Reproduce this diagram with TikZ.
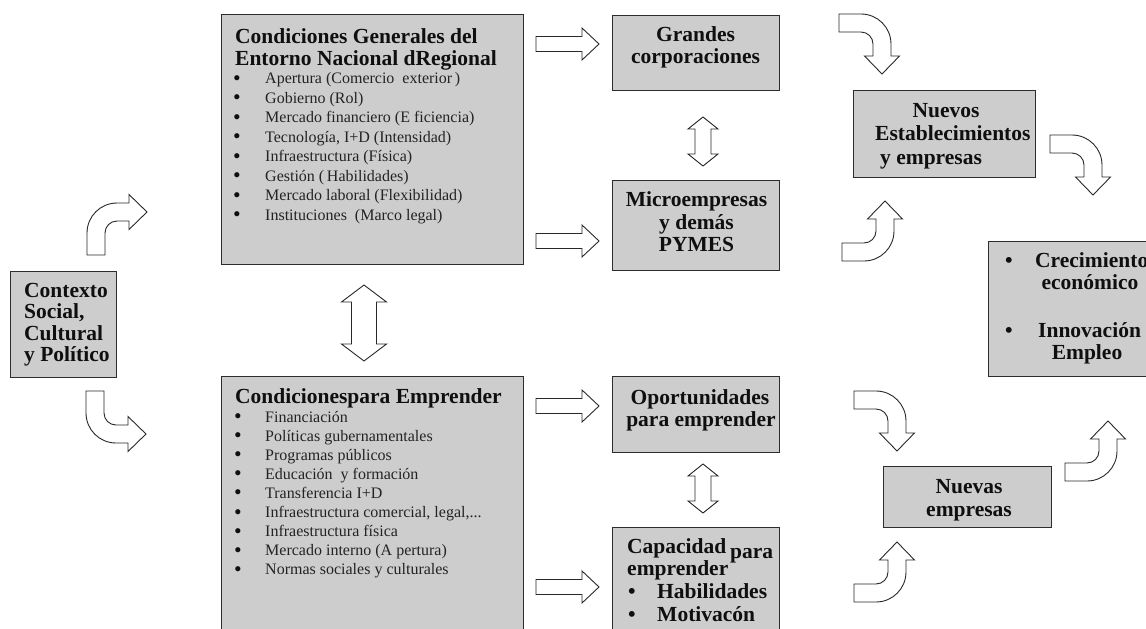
\documentclass[tikz,border=0pt]{standalone}
\usepackage{fontspec}
\setmainfont{Liberation Serif}
\definecolor{boxfill}{RGB}{205,205,205}
\definecolor{boxline}{RGB}{45,45,45}
\definecolor{arrline}{RGB}{40,40,40}
\definecolor{itemcol}{RGB}{35,35,35}
\definecolor{titcol}{RGB}{15,15,15}
\newcommand\threedots{...}
% bent block arrow: shaft starts at (0,0)-(0,18), goes right, bends down
\newcommand\bentarrow[1]{\draw[blk,#1] (0,0) -- (22,0) .. controls (38.6,0) and (52,13.4) .. (52,30) -- (52,42) -- (60.5,42) -- (43,60) -- (25.5,42) -- (34,42) -- (34,30) .. controls (34,23.4) and (28.6,18) .. (22,18) -- (0,18) -- cycle;}
% straight block arrow pointing right, shift = left end centre
\newcommand\rightarrowblk[1]{\draw[blk,shift={#1}] (0,-7.5) -- (46,-7.5) -- (46,-16) -- (63,0) -- (46,16) -- (46,7.5) -- (0,7.5) -- cycle;}
% small vertical double block arrow, shift = centre
\newcommand\smalldbl[1]{\draw[blk,shift={#1}] (-8,-12.5) -- (-15,-12.5) -- (0,-24.5) -- (15,-12.5) -- (8,-12.5) -- (8,12.5) -- (15,12.5) -- (0,24.5) -- (-15,12.5) -- (-8,12.5) -- cycle;}
\begin{document}
\begin{tikzpicture}[x=1pt,y=-1pt,
  box/.style={draw=boxline, fill=boxfill, line width=1.3pt, inner sep=0pt, anchor=north west},
  blk/.style={draw=arrline, fill=white, line width=0.9pt, line join=miter},
  tl/.style={font=\fontsize{21.5}{22}\selectfont\bfseries, inner sep=0pt, anchor=base west, text=titcol},
  tc/.style={tl, anchor=base},
  itm/.style={font=\fontsize{16}{19.5}\selectfont, inner sep=0pt, anchor=base west, text=itemcol},
  bul/.style={font=\fontsize{19}{19.5}\selectfont\bfseries, inner sep=0pt, anchor=base, text=titcol},
]
\useasboundingbox (0,0) rectangle (1146,629);
\clip (0,0) rectangle (1146,629);
\fill[white] (0,0) rectangle (1146,629);

% ---------- boxes ----------
\node[box, minimum width=106, minimum height=106] (ctx) at (10,271) {};
\node[box, minimum width=302, minimum height=250] (cg) at (221,14) {};
\node[box, minimum width=302, minimum height=290] (ce) at (221,376) {};
\node[box, minimum width=167, minimum height=75] (gc) at (612,15) {};
\node[box, minimum width=167, minimum height=90] (mi) at (612,180) {};
\node[box, minimum width=167, minimum height=76] (op) at (612,376) {};
\node[box, minimum width=167, minimum height=130] (cp) at (612,527) {};
\node[box, minimum width=182, minimum height=87] (ne) at (853,90) {};
\node[box, minimum width=190, minimum height=135] (cr) at (988,241) {};
\node[box, minimum width=168, minimum height=61] (nu) at (883,466) {};

% ---------- Contexto ----------
\node[tl] (ctx1) at (24,297) {Contexto};
\node[tl] (ctx2) at (24,318.5) {Social,};
\node[tl] (ctx3) at (24,340) {Cultural};
\node[tl] (ctx4) at (24,361) {y Político};

% ---------- Condiciones generales ----------
\node[tl] (cgt1) at (235,43.3) {Condiciones Generales del};
\node[tl] (cgt2) at (235,65) {Entorno Nacional dRegional};
\foreach \t [count=\i from 0] in {{Apertura (Comercio\ \ exterior\,)}, {Gobierno (Rol)}, {Mercado financiero (E ficiencia)}, {Tecnología, I+D (Intensidad)}, {Infraestructura (Física)}, {Gestión (\,Habilidades)}, {Mercado laboral (Flexibilidad)}, {Instituciones\ \ (Marco legal)}}{
  \node[bul] (cgb\i) at (237,{84+19.5*\i}) {\textbullet};
  \node[itm] (cgi\i) at (265,{83.5+19.5*\i}) {\t};
}

% ---------- Condiciones para emprender ----------
\node[tl] (cet) at (235,403) {Condicionespara Emprender};
\foreach \t [count=\i from 0] in {{Financiación}, {Políticas gubernamentales}, {Programas públicos}, {Educación\ \ y formación}, {Transferencia I+D}, {Infraestructura comercial, legal,\threedots}, {Infraestructura física}, {Mercado interno (A pertura)}, {Normas sociales y culturales}}{
  \node[bul] (ceb\i) at (238,{422.5+19.1*\i}) {\textbullet};
  \node[itm] (cei\i) at (265,{422+19.1*\i}) {\t};
}

% ---------- middle boxes ----------
\node[tc] (gc1) at (695.5,41.5) {Grandes};
\node[tc] (gc2) at (695.5,63.5) {corporaciones};
\node[tc] (mi1) at (696.5,206.5) {Microempresas};
\node[tc] (mi2) at (696.5,229) {y demás};
\node[tc] (mi3) at (696.5,251.5) {PYMES};
\node[tc] (op1) at (700,404) {Oportunidades};
\node[tc] (op2) at (701,426.5) {para emprender};
\node[tl] (cp1) at (627,553) {Capacidad};
\node[tl] (cp2) at (730,558.5) {para};
\node[tl] (cp3) at (627,575) {emprender};
\node[tc] (cp4) at (632,598) {\textbullet};
\node[tl] (cp5) at (657,598) {Habilidades};
\node[tc] (cp6) at (632,621.5) {\textbullet};
\node[tl] (cp7) at (657,621.5) {Motivacón};

% ---------- right boxes ----------
\node[tc] (ne1) at (946,117) {Nuevos};
\node[tl] (ne2) at (875,140.7) {Establecimientos};
\node[tl] (ne3) at (880,164.5) {y empresas};
\node[tc] (cr1) at (1009,267) {\textbullet};
\node[tl] (cr2) at (1035,267) {Crecimiento};
\node[tc] (cr3) at (1090,289.3) {económico};
\node[tc] (cr4) at (1009,337) {\textbullet};
\node[tl] (cr5) at (1038,337) {Innovación};
\node[tc] (cr6) at (1087,359) {Empleo};
\node[tc] (nu1) at (969,493.3) {Nuevas};
\node[tc] (nu2) at (969,516) {empresas};

% ---------- straight block arrows ----------
\rightarrowblk{(536,44)}
\rightarrowblk{(536,241)}
\rightarrowblk{(536,406)}
\rightarrowblk{(536,587)}
\smalldbl{(703,141.5)}
\smalldbl{(703,488.5)}
\draw[blk] (351.5,302) -- (341.5,302) -- (364,285) -- (386.5,302) -- (376.5,302) -- (376.5,344) -- (386.5,344) -- (364,361) -- (341.5,344) -- (351.5,344) -- cycle;

% ---------- bent block arrows ----------
\bentarrow{shift={(87,255)}, rotate=90}
\bentarrow{shift={(86,391)}, cm={0,-1,-1,0,(0,0)}}
\bentarrow{shift={(839,14)}}
\bentarrow{shift={(1050,135)}}
\bentarrow{shift={(842,261)}, yscale=-1}
\bentarrow{shift={(854,391)}}
\bentarrow{shift={(854,602)}, yscale=-1}
\bentarrow{shift={(1065,481)}, yscale=-1}
\end{tikzpicture}
\end{document}
